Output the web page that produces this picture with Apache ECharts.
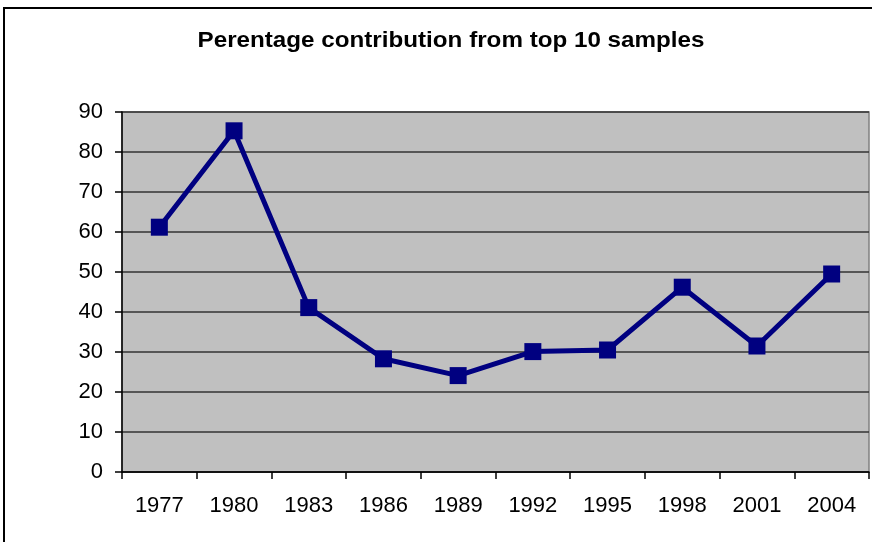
<!DOCTYPE html>
<html>
<head>
<meta charset="utf-8">
<script src="https://cdn.jsdelivr.net/npm/echarts@6/dist/echarts.min.js"></script>
<style>html,body{margin:0;padding:0;background:#fff}#c{width:872px;height:542px}</style>
</head>
<body>
<div id="c"></div>
<script>
var titleText = 'Perentage contribution from top 10 samples';
var years = ['1977','1980','1983','1986','1989','1992','1995','1998','2001','2004'];
var values = [61.2, 85.3, 41.1, 28.3, 24.1, 30.1, 30.5, 46.2, 31.5, 49.5];
var yTicks = [0, 10, 20, 30, 40, 50, 60, 70, 80, 90];

var chart = echarts.init(document.getElementById('c'), null, {renderer: 'canvas'});
chart.setOption({
  animation: false,
  backgroundColor: '#ffffff',
  graphic: [{
    type: 'rect', silent: true, z: -1,
    shape: {x: 4, y: 8, width: 900, height: 600},
    style: {fill: 'none', stroke: '#000', lineWidth: 2}
  }, {
    type: 'text', silent: true,
    x: 451, y: 41, scaleX: 1.1,
    style: {
      text: titleText,
      font: 'bold 22px "Liberation Sans", Arial, sans-serif',
      fill: '#000',
      textAlign: 'center',
      textVerticalAlign: 'middle'
    }
  }],
  grid: {
    left: 122, top: 112, right: 3, bottom: 70,
    show: true, backgroundColor: '#C0C0C0', borderColor: '#808080', borderWidth: 1.5
  },
  xAxis: {
    type: 'category',
    data: years,
    boundaryGap: true,
    axisLine: {lineStyle: {color: '#000', width: 1.5}},
    axisTick: {show: true, length: 7, alignWithLabel: false, lineStyle: {color: '#000', width: 1.5}},
    axisLabel: {fontFamily: 'Liberation Sans, Arial', fontSize: 22, color: '#000', margin: 23},
    splitLine: {show: false}
  },
  yAxis: {
    type: 'value',
    min: 0, max: 90, interval: 10,
    axisLine: {show: true, lineStyle: {color: '#000', width: 1.5}},
    axisTick: {show: true, length: 7, lineStyle: {color: '#000', width: 1.5}},
    axisLabel: {fontFamily: 'Liberation Sans, Arial', fontSize: 22, color: '#000', margin: 19,
      formatter: function (v) { return yTicks.indexOf(v) >= 0 ? String(v) : ''; }},
    splitLine: {show: true, lineStyle: {color: '#333', width: 1.5}}
  },
  series: [{
    type: 'line',
    data: values,
    symbol: 'rect',
    symbolSize: 17,
    lineStyle: {color: '#000080', width: 5},
    itemStyle: {color: '#000080'},
    z: 5
  }]
});
</script>
</body>
</html>
